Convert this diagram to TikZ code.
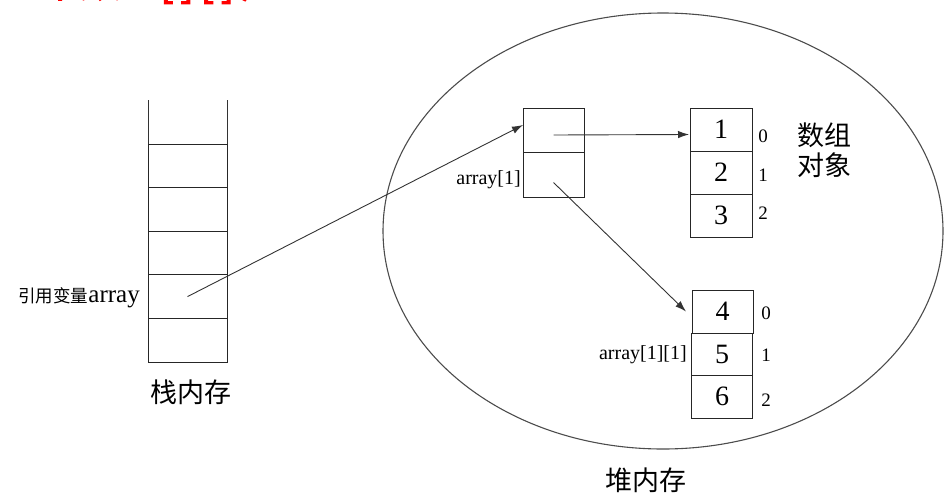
\documentclass[tikz,border=0pt]{standalone}
\usepackage{fontspec}
\usepackage{graphicx}
\setmainfont{Liberation Serif}
\newfontfamily\cjk{Noto Sans CJK SC}
\newfontfamily\cjkheavy[FakeBold=3]{Noto Sans CJK SC}
\usetikzlibrary{arrows.meta,shapes.geometric}

\begin{document}
\begin{tikzpicture}[x=1pt,y=-1pt,
  box/.style={draw=black!85, line width=0.9pt, inner sep=0pt, outer sep=0pt,
    minimum width=61pt, minimum height=43pt,
    font=\fontsize{28}{28}\selectfont},
  stackcell/.style={draw=black!85, line width=0.9pt, inner sep=0pt, outer sep=0pt,
    minimum width=79pt, minimum height=43.6pt},
  idx/.style={inner sep=0pt, font=\fontsize{19}{19}\selectfont},
  lbl/.style={inner sep=0pt, font=\fontsize{20}{20}\selectfont},
  cjklbl/.style={inner sep=0pt, font=\cjk\fontsize{27}{30}\selectfont},
  conn/.style={draw=black!80, line width=0.9pt},
  arrow/.style={conn, -{Latex[length=11pt,width=7.5pt]}}
]
\useasboundingbox (0,0) rectangle (945,493);

% heading, mostly above the page edge
\begin{scope}
  \clip (0,0) rectangle (945,493);
  \node[anchor=base west, inner sep=0pt, text=red,
        font=\cjkheavy\fontsize{40}{40}\selectfont] (title) at (0,-3)
        {二维数组{[}\,{]}\,{[}\,{]}\,）};
\end{scope}

% stack memory
\node[stackcell] (s1) at (187.5,165.8) {};
\node[stackcell] (s2) at (187.5,209.4) {};
\node[stackcell] (s3) at (187.5,253.0) {};
\node[stackcell] (s4) at (187.5,296.6) {};
\node[stackcell] (s5) at (187.5,340.2) {};
\draw[conn] (s1.north west) -- ++(0,-44);
\draw[conn] (s1.north east) -- ++(0,-44);
\node[anchor=east, inner sep=0pt] (refvar) at (140,298)
  {\cjk\fontsize{17.5}{17.5}\selectfont 引用变量\fontspec{Liberation Serif}\fontsize{25}{25}\selectfont array};
\node[cjklbl] (stacklbl) at (191,392) {栈内存};

% heap memory
\node[draw=black!70, line width=1.1pt, ellipse, inner sep=0pt,
      minimum width=560pt, minimum height=436pt] (heap) at (663,231) {};
\node[cjklbl] (heaplbl) at (646,480) {堆内存};

% outer array: two references
\node[box, minimum height=44pt] (p1) at (553.5,130) {};
\node[box, minimum height=45pt] (p2) at (553.5,174.5) {};
\node[lbl, anchor=east] (p2lbl) at (521,180) {array[1]};

% first inner array
\node[box, minimum width=62pt] (a1) at (721,129.5) {1};
\node[box, minimum width=62pt] (a2) at (721,172.5) {2};
\node[box, minimum width=62pt] (a3) at (721,215.5) {3};
\node[idx] (ia0) at (763,136) {0};
\node[idx] (ia1) at (763,175) {1};
\node[idx] (ia2) at (763,213) {2};
\node[cjklbl, align=left, anchor=west] (objlbl) at (797,150) {数组\\对象};

% second inner array
\node[box] (b1) at (722.5,311.5) {4};
\node[box, minimum height=42pt] (b2) at (722,354) {5};
\node[box] (b3) at (722,396.5) {6};
\node[idx] (ib0) at (766,313) {0};
\node[idx] (ib1) at (766,355) {1};
\node[idx] (ib2) at (766,400) {2};
\node[lbl, anchor=east] (b2lbl) at (687,355) {array[1][1]};

% references
\draw[arrow] (s4.center) -- ([yshift=5pt]p1.west);
\draw[arrow] ([yshift=-5pt]p1.center) -- ([xshift=-1pt,yshift=-5pt]a1.west);
\draw[arrow] ([yshift=-8pt]p2.center) -- ([xshift=-6pt]b1.west);
\end{tikzpicture}
\end{document}
